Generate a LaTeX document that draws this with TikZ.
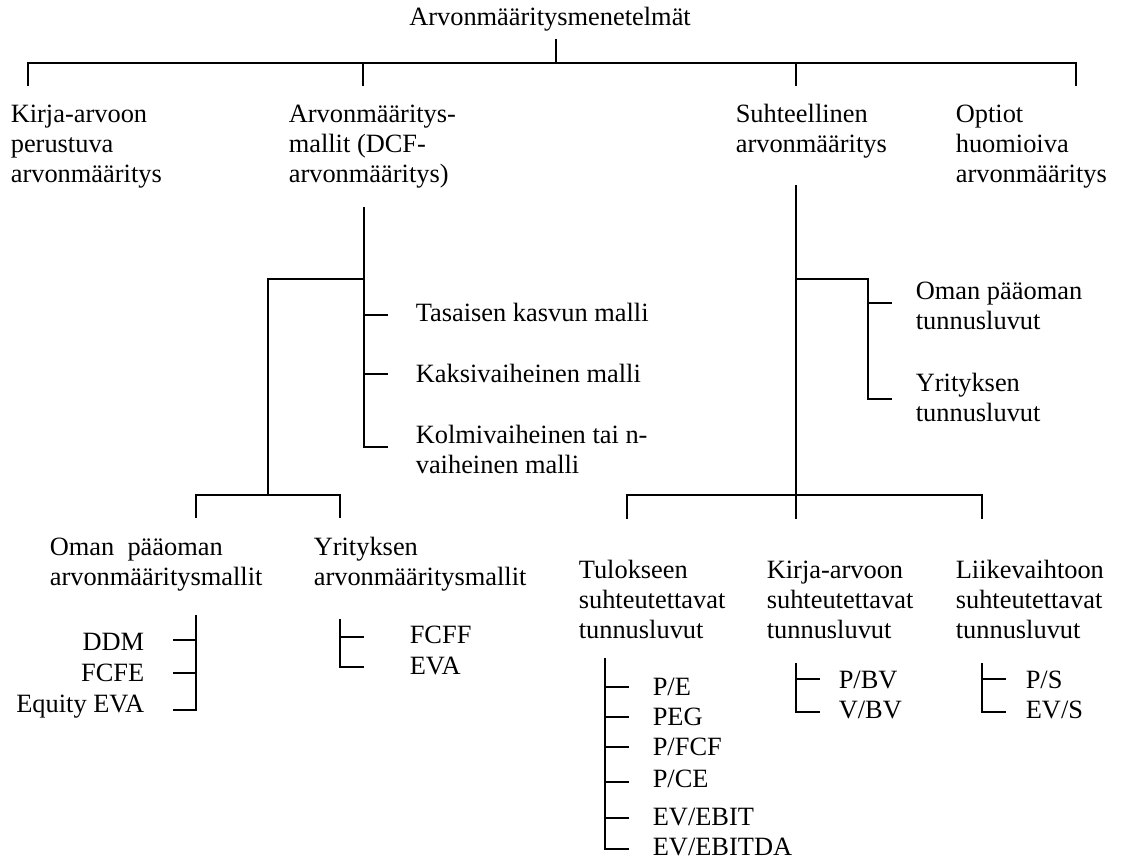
\documentclass[tikz,border=0pt]{standalone}
\usepackage{fontspec}
\setmainfont{Liberation Serif}
\newcommand{\blk}[1]{\begin{tabular}[t]{@{}l@{}}#1\end{tabular}}
\begin{document}
\begin{tikzpicture}[x=1pt, y=-1pt, line width=1.6pt,
  font=\fontsize{26.4}{30}\selectfont,
  lbl/.style={anchor=base west, inner sep=0pt},
  lblr/.style={anchor=base east, inner sep=0pt},
  ttl/.style={anchor=base, inner sep=0pt}]
\useasboundingbox (0,0) rectangle (1126,859);

% ---- root and first level ----
\node[ttl] (title) at (550,26) {Arvonmääritysmenetelmät};
\node[lbl] (kirja) at (10,122)  {\blk{Kirja-arvoon\\perustuva\\arvonmääritys}};
\node[lbl] (dcf)   at (288,122) {\blk{Arvonmääritys-\\mallit (DCF-\\arvonmääritys)}};
\node[lbl] (suht)  at (735,122) {\blk{Suhteellinen\\arvonmääritys}};
\node[lbl] (opt)   at (955,122) {\blk{Optiot\\huomioiva\\arvonmääritys}};

\coordinate (r0) at (556,39);
\coordinate (r1) at (556,63);
\coordinate (h1) at (28,63);
\coordinate (h2) at (363,63);
\coordinate (h3) at (796,63);
\coordinate (h4) at (1076,63);
\draw (r0) -- (r1);
\draw (h1 |- 0,86) -- (h1) -- (h4) -- (h4 |- 0,86);
\draw (h2) -- (h2 |- 0,86);
\draw (h3) -- (h3 |- 0,86);

% ---- DCF branch ----
\node[lbl] (tas) at (415,321) {Tasaisen kasvun malli};
\node[lbl] (kak) at (415,382) {Kaksivaiheinen malli};
\node[lbl] (kol) at (415,443) {\blk{Kolmivaiheinen tai n-\\vaiheinen malli}};

\coordinate (d0) at (364,207);
\coordinate (d1) at (364,279);
\coordinate (dt1) at (364,315);
\coordinate (dt2) at (364,374);
\coordinate (dt3) at (364,447);
\draw (d0) -- (dt3) -- ++(24,0);
\draw (dt1) -- ++(24,0);
\draw (dt2) -- ++(24,0);

\coordinate (e0) at (268,279);
\coordinate (e1) at (268,495);
\coordinate (e2) at (196,495);
\coordinate (e3) at (340,495);
\draw (d1) -- (e0) -- (e1);
\draw (e2 |- 0,518) -- (e2) -- (e3) -- (e3 |- 0,518);

\node[lbl] (omaM) at (49,555)  {\blk{Oman\ \ pääoman\\arvonmääritysmallit}};
\node[lbl] (yrM)  at (313,555) {\blk{Yrityksen\\arvonmääritysmallit}};

% equity models
\node[lblr] (ddm)  at (145,650) {DDM};
\node[lblr] (fcfe) at (145,681) {FCFE};
\node[lblr] (eeva) at (145,712) {Equity EVA};
\coordinate (l0) at (196,615);
\coordinate (l1) at (196,640);
\coordinate (l2) at (196,673);
\coordinate (l3) at (196,710);
\draw (l0) -- (l3) -- ++(-23,0);
\draw (l1) -- ++(-23,0);
\draw (l2) -- ++(-23,0);

% firm models
\node[lbl] (fcff) at (409,643) {FCFF};
\node[lbl] (eva)  at (409,674) {EVA};
\coordinate (m0) at (340,619);
\coordinate (m1) at (340,637);
\coordinate (m2) at (340,667);
\draw (m0) -- (m2) -- ++(24,0);
\draw (m1) -- ++(24,0);

% ---- relative valuation branch ----
\node[lbl] (omaT) at (915,299) {\blk{Oman pääoman\\tunnusluvut}};
\node[lbl] (yrT)  at (915,391) {\blk{Yrityksen\\tunnusluvut}};

\coordinate (s0) at (796,185);
\coordinate (s1) at (796,279);
\coordinate (s2) at (796,495);
\coordinate (f0) at (868,279);
\coordinate (f1) at (868,303);
\coordinate (f2) at (868,399);
\draw (s0) -- (s2) -- (s2 |- 0,519);
\draw (s1) -- (f0) -- (f2) -- ++(24,0);
\draw (f1) -- ++(24,0);

\coordinate (g1) at (627,495);
\coordinate (g2) at (982,495);
\draw (g1 |- 0,519) -- (g1) -- (g2) -- (g2 |- 0,519);

\node[lbl] (tul)  at (578,578) {\blk{Tulokseen\\suhteutettavat\\tunnusluvut}};
\node[lbl] (kirS) at (766,578) {\blk{Kirja-arvoon\\suhteutettavat\\tunnusluvut}};
\node[lbl] (liik) at (955,578) {\blk{Liikevaihtoon\\suhteutettavat\\tunnusluvut}};

% earnings multiples
\node[lbl] (pe)       at (652,695) {P/E};
\node[lbl] (peg)      at (652,725) {PEG};
\node[lbl] (pfcf)     at (652,755) {P/FCF};
\node[lbl] (pce)      at (652,787) {P/CE};
\node[lbl] (evebit)   at (652,825) {EV/EBIT};
\node[lbl] (evebitda) at (652,855) {EV/EBITDA};
\coordinate (p0) at (605,658);
\coordinate (p1) at (605,687);
\coordinate (p2) at (605,717);
\coordinate (p3) at (605,747);
\coordinate (p4) at (605,782);
\coordinate (p5) at (605,818);
\coordinate (p6) at (605,849);
\draw (p0) -- (p6) -- ++(24,0);
\foreach \c in {p1,p2,p3,p4,p5} \draw (\c) -- ++(24,0);

% book value multiples
\node[lbl] (pbv) at (838,688) {P/BV};
\node[lbl] (vbv) at (838,718) {V/BV};
\coordinate (q0) at (796,663);
\coordinate (q1) at (796,679);
\coordinate (q2) at (796,712);
\draw (q0) -- (q2) -- ++(24,0);
\draw (q1) -- ++(24,0);

% sales multiples
\node[lbl] (ps)  at (1025,688) {P/S};
\node[lbl] (evs) at (1025,718) {EV/S};
\coordinate (u0) at (982,663);
\coordinate (u1) at (982,679);
\coordinate (u2) at (982,712);
\draw (u0) -- (u2) -- ++(24,0);
\draw (u1) -- ++(24,0);
\end{tikzpicture}
\end{document}
